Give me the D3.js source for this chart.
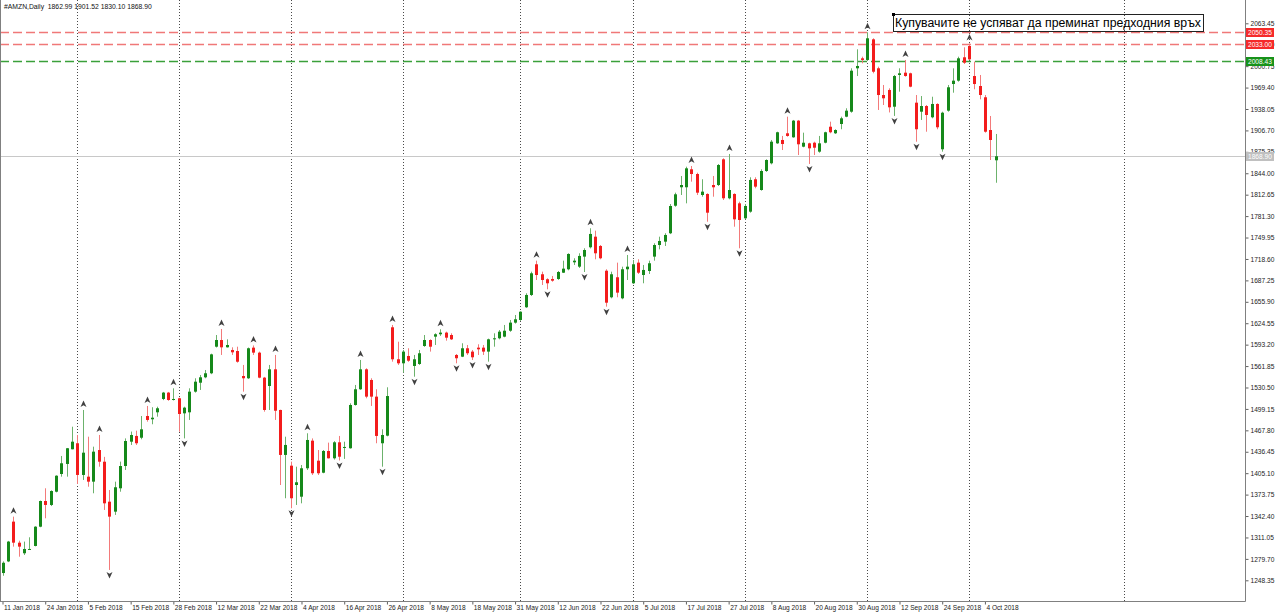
<!DOCTYPE html>
<html>
<head>
<meta charset="utf-8">
<script src="https://cdnjs.cloudflare.com/ajax/libs/d3/7.8.5/d3.min.js"></script>
<style>
  body { margin: 0; background: #fff; }
  svg text { font-family: "Liberation Sans", Arial, sans-serif; }
</style>
</head>
<body>
<div id="chart"></div>
<script>
// AMZN daily bars, 11 Jan 2018 .. 8 Oct 2018

var openP = [
  1259, 1276, 1334.2, 1303.4, 1287.9, 1293.5, 1298.6, 1326.8, 1364.4, 1358.6,
  1378, 1403.9, 1418.6, 1440.1, 1448.9, 1402.5, 1400, 1392.7, 1439, 1421.9,
  1363.4, 1348.8, 1383, 1415.6, 1451.2, 1459.6, 1457, 1488.8, 1484, 1494.2,
  1513.7, 1523, 1512.2, 1514.7, 1492.7, 1494.2, 1524.4, 1537.5, 1545.4, 1551.3,
  1590.2, 1600, 1589.3, 1585.4, 1583.9, 1547.3, 1544, 1588.8, 1581.5, 1544.9,
  1532.7, 1557.1, 1497.6, 1431.8, 1416.1, 1387.8, 1370.7, 1412.3, 1452.7, 1423.4,
  1405.8, 1437.6, 1426.9, 1450.3, 1442, 1441.6, 1504.9, 1527.9, 1557.1, 1541.5,
  1517.1, 1448.9, 1460, 1618.6, 1571.8, 1565.9, 1576.6, 1562, 1564.9, 1591.2,
  1600, 1604.9, 1608.4, 1610.8, 1607.3, 1578.1, 1575.6, 1587.9, 1583, 1588.8,
  1588.8, 1583, 1601, 1602.5, 1604.9, 1613.6, 1625.4, 1629.3, 1647.9, 1665.9,
  1710.8, 1696.2, 1688.9, 1689.3, 1689.3, 1698.5, 1703.5, 1713.7, 1707.3, 1722,
  1735.7, 1751.2, 1737.6, 1701.4, 1662.5, 1691.8, 1661, 1703.5, 1683, 1713.2,
  1695.1, 1701, 1722, 1739, 1743.9, 1756.2, 1796.5, 1823.5, 1823.5, 1849.8,
  1842.9, 1812.2, 1813.7, 1826.8, 1826.8, 1864.4, 1807.4, 1813.7, 1800, 1778.1,
  1787.8, 1835.2, 1819.5, 1847.3, 1858.6, 1887.8, 1892.7, 1902.5, 1896.6, 1921,
  1882.9, 1887.8, 1888.7, 1875.6, 1888.7, 1912.1, 1902.5, 1916.1, 1926.8, 1934.1,
  1997.6, 2012.2, 2009.8, 2040, 1997.6, 1958.5, 1965.9, 1941.4, 1987.8, 1991.2,
  1990.3, 1947.3, 1934.1, 1942.4, 1925.9, 1945.4, 1879.1, 1935.6, 1974.6, 1979.5,
  2013.7, 2030.2, 1986.3, 1971.7, 1955.2, 1907.3, 1862.99
];
var highP = [
  1276, 1306, 1341.5, 1306.3, 1305, 1311.3, 1327.5, 1365, 1383, 1380,
  1402, 1430.3, 1442, 1473.1, 1461, 1497.6, 1458.5, 1443.9, 1461, 1429,
  1380.5, 1392.7, 1422, 1456, 1466, 1467.3, 1488.8, 1503.5, 1501.6, 1502.4,
  1524, 1524, 1529.3, 1515.5, 1502.4, 1529.3, 1544, 1548.8, 1556.1, 1580,
  1607.3, 1616.1, 1601, 1589.3, 1590.2, 1563.5, 1589, 1592, 1583, 1546,
  1563.5, 1578.1, 1498, 1458.5, 1422, 1414.6, 1417.1, 1463.5, 1456, 1439,
  1439, 1449.8, 1452, 1459.6, 1451.2, 1507.4, 1534.2, 1570.8, 1558.6, 1544,
  1527.9, 1469.3, 1530.8, 1622, 1597.5, 1585.4, 1587.9, 1578.1, 1585.4, 1607.3,
  1601, 1609.8, 1615.7, 1612.2, 1609.8, 1579.5, 1595.2, 1592.7, 1585.4, 1593.7,
  1592.7, 1602, 1609.8, 1614.6, 1622, 1629.3, 1636.6, 1642, 1668.4, 1700,
  1716.1, 1700, 1690.3, 1693.7, 1701, 1716.1, 1726.9, 1719.6, 1726.9, 1734.2,
  1763.5, 1760, 1739, 1703.5, 1700, 1713.2, 1707.3, 1724.4, 1717.1, 1718.1,
  1709.8, 1716.1, 1741.5, 1751.2, 1756.2, 1799, 1815.6, 1840, 1853.6, 1854.6,
  1844.8, 1835.2, 1814.7, 1840, 1857.5, 1865.9, 1872.2, 1814.7, 1802.4, 1799,
  1838.1, 1838.1, 1849.8, 1864.4, 1892.7, 1904.8, 1898.6, 1926.8, 1922, 1922,
  1903.4, 1888.7, 1890.2, 1898.6, 1904.8, 1919.5, 1908.4, 1926.8, 1939.1, 1997.6,
  2025.4, 2014.6, 2050.35, 2041.5, 2000, 1973.2, 1968.3, 1987.8, 1997.6, 2009.8,
  1991.2, 1958.5, 1957, 1943.9, 1956, 1946.4, 1934.1, 1973.2, 1997.6, 2014.6,
  2028.3, 2034, 2007.3, 1987.8, 1958.5, 1927.8, 1901.52
];
var lowP = [
  1255, 1275, 1297.6, 1282.9, 1285.4, 1293, 1298, 1326, 1339.1, 1357,
  1377, 1400, 1400, 1440, 1389.3, 1395.2, 1385.3, 1375.7, 1414.6, 1351.3,
  1263.5, 1344, 1378, 1409.8, 1446.4, 1446.4, 1454.7, 1480.5, 1476.7, 1487.8,
  1512, 1511, 1511.5, 1465.8, 1456, 1483, 1523, 1526.9, 1544, 1550,
  1589, 1578.1, 1589, 1578.1, 1566.8, 1524.4, 1543, 1578.1, 1544, 1495.1,
  1497.6, 1483, 1387.8, 1368.4, 1353.8, 1358.6, 1361, 1409.8, 1402.5, 1402.5,
  1405, 1426.6, 1425, 1423.7, 1426, 1441, 1504, 1527, 1514.7, 1503.5,
  1448.9, 1414.6, 1459, 1568.3, 1563.5, 1552.2, 1568, 1546.3, 1563.5, 1590,
  1583, 1592.7, 1606, 1599, 1600, 1565.9, 1575, 1578.1, 1570.7, 1578.1,
  1578.1, 1568.3, 1590.2, 1601, 1604, 1612, 1624, 1628, 1647, 1664.4,
  1687.8, 1680.5, 1674.2, 1685.3, 1688, 1698, 1702, 1709.8, 1705.4, 1699.5,
  1734, 1718.1, 1718.1, 1648.8, 1661, 1662.5, 1659.6, 1687.8, 1682, 1696.6,
  1683, 1696.6, 1716.1, 1732.7, 1737.6, 1755, 1795, 1812.2, 1800, 1831.7,
  1812.2, 1809.7, 1773.1, 1809.7, 1825.4, 1804.9, 1805.9, 1765.8, 1734.2, 1776.6,
  1786.3, 1822, 1818.5, 1846, 1857, 1887, 1878, 1897.5, 1896, 1870.7,
  1882, 1857.6, 1870.7, 1874.1, 1887.8, 1902.5, 1901.5, 1908.4, 1926, 1932.6,
  1986.3, 2004.9, 2008.43, 1990.3, 1936.6, 1943.9, 1933, 1927.9, 1963.4, 1985.3,
  1969.8, 1890.2, 1922, 1904.8, 1924.4, 1908.4, 1875.6, 1934.1, 1961.9, 1978,
  2003.9, 2009.8, 1966.9, 1952.2, 1903.4, 1863.4, 1830.10
];
var closeP = [
  1274, 1305, 1303.4, 1297.6, 1294.2, 1294.2, 1326.8, 1364.4, 1358.6, 1379,
  1401.4, 1419.6, 1441.6, 1451.2, 1402.5, 1435.1, 1392.7, 1436.6, 1421.9, 1361,
  1341.5, 1384.5, 1415.6, 1452.2, 1461, 1448.9, 1469.3, 1483, 1486.3, 1500.1,
  1523, 1512.2, 1513.7, 1491.7, 1501, 1524.4, 1539, 1545.4, 1551.3, 1579,
  1600, 1589.3, 1592.7, 1582, 1568.2, 1544, 1587.9, 1581.5, 1544.9, 1497.6,
  1557.1, 1496.5, 1431.8, 1446.4, 1368.4, 1391.8, 1412.3, 1453.7, 1405, 1405,
  1437.6, 1426.9, 1450.3, 1429.2, 1443.5, 1504.9, 1527.9, 1557.1, 1517.1, 1517.1,
  1459.6, 1461, 1518, 1571.8, 1565.9, 1583, 1569.7, 1571.8, 1580.6, 1600,
  1590.2, 1608.4, 1610.8, 1603.4, 1601, 1573.3, 1587.9, 1580.6, 1574.7, 1586.4,
  1583, 1601, 1602.5, 1612.2, 1613.6, 1625.4, 1630.3, 1641.4, 1665.9, 1697.6,
  1695.1, 1687.8, 1683, 1686.8, 1699.5, 1704.4, 1725.9, 1716.1, 1723, 1731.7,
  1755.2, 1726.9, 1719.6, 1654.6, 1696.2, 1669.3, 1703.5, 1707.3, 1710.8, 1698.5,
  1702.5, 1712.3, 1739, 1744.9, 1753.7, 1796.1, 1813.2, 1826.8, 1851.2, 1842.9,
  1815.6, 1817.1, 1786.3, 1823.5, 1856.1, 1807.4, 1819.5, 1776.6, 1775.6, 1796.1,
  1834.2, 1824.4, 1847.3, 1863.4, 1890.2, 1904, 1886.8, 1898.6, 1921, 1886.4,
  1888.7, 1880.5, 1881.4, 1887.8, 1904, 1904, 1907.3, 1924.4, 1935.6, 1994.1,
  2001, 2009.8, 2041.5, 1992.6, 1958.5, 1953.7, 1940.5, 1986.3, 1990.3, 1986.3,
  1970.7, 1908.4, 1942.4, 1929.3, 1945.4, 1911.3, 1932.6, 1969.8, 1979.5, 2012.2,
  2005.8, 2010.7, 1974.6, 1958.5, 1904.8, 1892.7, 1868.90
];

// fractal markers (bar numbers)
var fractalUp = [2, 15, 18, 27, 32, 41, 47, 51, 57, 67, 73, 82, 100, 110, 117, 129, 136, 147, 162, 169, 181];
var fractalDown = [20, 34, 45, 54, 63, 71, 77, 85, 88, 91, 102, 109, 113, 132, 138, 151, 167, 171, 176];

// first bar of each month (last one is in the empty future area)
var monthStarts = [14, 33, 54, 75, 97, 118, 139, 162, 181, 210];

// time axis labels, one every 8 bars
var dateLabels = ["11 Jan 2018", "24 Jan 2018", "5 Feb 2018", "15 Feb 2018", "28 Feb 2018",
  "12 Mar 2018", "22 Mar 2018", "4 Apr 2018", "16 Apr 2018", "26 Apr 2018", "8 May 2018",
  "18 May 2018", "31 May 2018", "12 Jun 2018", "22 Jun 2018", "5 Jul 2018", "17 Jul 2018",
  "27 Jul 2018", "8 Aug 2018", "20 Aug 2018", "30 Aug 2018", "12 Sep 2018", "24 Sep 2018",
  "4 Oct 2018"];
var labelEvery = 8;

var priceTicks = [2063.45, 2032.10, 2000.75, 1969.40, 1938.05, 1906.70, 1875.35, 1844.00,
  1812.65, 1781.30, 1749.95, 1718.60, 1687.25, 1655.90, 1624.55, 1593.20, 1561.85, 1530.50,
  1499.15, 1467.80, 1436.45, 1405.10, 1373.75, 1342.40, 1311.05, 1279.70, 1248.35];

// horizontal lines drawn on the chart
var hLines = [
  { price: 2050.35, color: "#f07878", box: "#f52a2a" },
  { price: 2033.00, color: "#f07878", box: "#f52a2a" },
  { price: 2008.43, color: "#3aa03a", box: "#18921a" }
];
var bidPrice = 1868.90;
var titleText = "#AMZN,Daily  1862.99 1901.52 1830.10 1868.90";
var noteText = "Купувачите не успяват да преминат предходния връх";

var W = 1280, H = 615;
var plotRight = 1245, plotBottom = 601;

var svg = d3.select("#chart").append("svg")
  .attr("width", W).attr("height", H)
  .style("display", "block");

svg.append("rect").attr("width", W).attr("height", H).attr("fill", "#fff");

var bars = d3.range(openP.length).map(function(i) {
  return { i: i, o: openP[i], h: highP[i], l: lowP[i], c: closeP[i] };
});

var x = d3.scaleLinear().domain([0, 186]).range([2.5, 995.6]);
var y = d3.scaleLinear().domain([1248.35, 2063.45]).range([580.3, 23.3]);

function px(i) { return Math.round(x(i)); }

// month separators
svg.append("g").selectAll("line").data(monthStarts).enter().append("line")
  .attr("x1", function(d) { return px(d) + 0.5; })
  .attr("x2", function(d) { return px(d) + 0.5; })
  .attr("y1", 0).attr("y2", plotBottom)
  .attr("stroke", "#4a4a4a")
  .attr("stroke-width", 1)
  .attr("stroke-dasharray", "1,2");

// bid line
svg.append("line")
  .attr("x1", 0).attr("x2", plotRight)
  .attr("y1", Math.round(y(bidPrice)) + 0.5).attr("y2", Math.round(y(bidPrice)) + 0.5)
  .attr("stroke", "#c8c8c8");

// dashed horizontal levels
svg.append("g").selectAll("line").data(hLines).enter().append("line")
  .attr("x1", 0).attr("x2", plotRight)
  .attr("y1", function(d) { return Math.round(y(d.price)) + 0.5; })
  .attr("y2", function(d) { return Math.round(y(d.price)) + 0.5; })
  .attr("stroke", function(d) { return d.color; })
  .attr("stroke-width", 1.4)
  .attr("stroke-dasharray", "9,4");

// candles
var candle = svg.append("g").selectAll("g").data(bars).enter().append("g");

candle.append("line")
  .attr("x1", function(d) { return px(d.i) + 0.5; })
  .attr("x2", function(d) { return px(d.i) + 0.5; })
  .attr("y1", function(d) { return y(d.h); })
  .attr("y2", function(d) { return y(d.l); })
  .attr("stroke", function(d) { return d.c >= d.o ? "#6cb26c" : "#f37a7a"; });

candle.append("rect")
  .attr("x", function(d) { return px(d.i) - 1; })
  .attr("width", 3)
  .attr("y", function(d) { return y(Math.max(d.o, d.c)); })
  .attr("height", function(d) { return Math.max(1, Math.abs(y(d.o) - y(d.c))); })
  .attr("fill", function(d) { return d.c >= d.o ? "#15891a" : "#f31c1c"; });

// fractal arrows
var upArrow = "M0,-3.5 L3,3 L0,1.2 L-3,3 Z";
svg.append("g").selectAll("path").data(fractalUp).enter().append("path")
  .attr("d", upArrow)
  .attr("transform", function(d) { return "translate(" + (px(d) + 0.5) + "," + (y(highP[d]) - 6) + ")"; })
  .attr("fill", "#404040");
svg.append("g").selectAll("path").data(fractalDown).enter().append("path")
  .attr("d", upArrow)
  .attr("transform", function(d) { return "translate(" + (px(d) + 0.5) + "," + (y(lowP[d]) + 5) + ") rotate(180)"; })
  .attr("fill", "#404040");

// frame
svg.append("line").attr("x1", 0.5).attr("x2", 0.5).attr("y1", 0).attr("y2", plotBottom + 0.5)
  .attr("stroke", "#808080");

// price axis
var yAxis = d3.axisRight(y).tickValues(priceTicks).tickSize(3).tickPadding(2)
  .tickFormat(d3.format(".2f"));
var gy = svg.append("g").attr("transform", "translate(" + (plotRight + 0.5) + ",0)").call(yAxis);
gy.select(".domain").remove();
gy.selectAll("line").attr("stroke", "#606060");
gy.selectAll("text").attr("font-size", "6.6px").attr("fill", "#222")
  .attr("font-family", "\"Liberation Sans\", Arial, sans-serif");
svg.append("line").attr("x1", plotRight + 0.5).attr("x2", plotRight + 0.5)
  .attr("y1", 0).attr("y2", plotBottom + 0.5).attr("stroke", "#808080");

// time axis
var xAxis = d3.axisBottom(x)
  .tickValues(dateLabels.map(function(d, k) { return k * labelEvery; }))
  .tickSize(3).tickPadding(1)
  .tickFormat(function(d) { return dateLabels[d / labelEvery]; });
var gx = svg.append("g").attr("transform", "translate(0," + (plotBottom + 0.5) + ")").call(xAxis);
gx.select(".domain").remove();
gx.selectAll("line").attr("stroke", "#606060");
gx.selectAll("text").attr("font-size", "6.6px").attr("fill", "#222")
  .attr("text-anchor", "start").attr("dx", "1")
  .attr("font-family", "\"Liberation Sans\", Arial, sans-serif");
svg.append("line").attr("x1", 0).attr("x2", plotRight + 0.5)
  .attr("y1", plotBottom + 0.5).attr("y2", plotBottom + 0.5).attr("stroke", "#808080");

// price boxes on the axis
function priceBox(price, fill) {
  var yy = Math.round(y(price));
  svg.append("rect").attr("x", plotRight + 1).attr("y", yy - 4).attr("width", 28).attr("height", 9)
    .attr("fill", fill);
  svg.append("text").attr("x", plotRight + 3).attr("y", yy + 2.5)
    .attr("font-size", "6.6px").attr("fill", "#fff").text(price.toFixed(2));
}
hLines.forEach(function(d) { priceBox(d.price, d.box); });
priceBox(bidPrice, "#c0c0c0");

// title
svg.append("text").attr("x", 4).attr("y", 9).attr("font-size", "6.8px").attr("fill", "#111")
  .attr("xml:space", "preserve").text(titleText);

// note label
svg.append("rect").attr("x", 893.5).attr("y", 14.5).attr("width", 310).attr("height", 17)
  .attr("fill", "none").attr("stroke", "#222");
svg.append("rect").attr("x", 892).attr("y", 13).attr("width", 3).attr("height", 3).attr("fill", "#000");
svg.append("text").attr("x", 895).attr("y", 27).attr("font-size", "12.5px").attr("fill", "#000")
  .attr("textLength", 306).attr("lengthAdjust", "spacingAndGlyphs")
  .text(noteText);
</script>
</body>
</html>
